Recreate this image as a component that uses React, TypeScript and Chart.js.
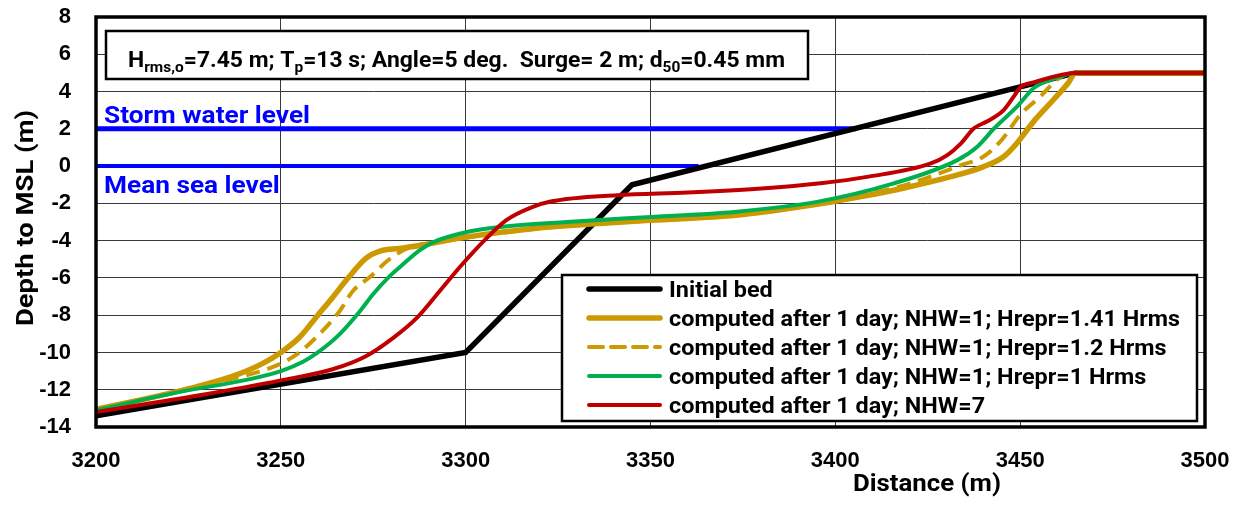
import { useEffect, useRef } from "react";
import { Chart, registerables } from "chart.js";

Chart.register(...registerables);

// Axis ticks
const distanceTicks = [3200, 3250, 3300, 3350, 3400, 3450, 3500];
const depthTicks = [-14, -12, -10, -8, -6, -4, -2, 0, 2, 4, 6, 8];

// Water levels (m to MSL) and the distance up to which each is drawn
const stormLevel = 2;
const stormLevelDist = [3200, 3405.5];
const meanSeaLevel = 0;
const meanSeaLevelDist = [3200, 3363];

// Initial bed profile
const initialDist = [3200, 3300, 3345, 3450, 3465, 3500];
const initialDepth = [-13.4, -10.0, -1.0, 4.25, 5.0, 5.0];

// Computed after 1 day; NHW=1; Hrepr=1.41 Hrms
const h141Dist = [3200, 3212, 3223, 3228, 3238, 3245, 3250, 3255, 3260, 3264, 3268, 3273, 3277, 3282, 3288, 3300, 3318, 3350, 3373, 3395, 3404, 3418, 3431, 3440, 3445.5, 3449, 3454, 3459, 3463, 3465, 3500];
const h141Depth = [-13.05, -12.55, -12.05, -11.8, -11.2, -10.6, -10.0, -9.2, -8.0, -7.05, -6.05, -4.95, -4.55, -4.42, -4.25, -3.81, -3.36, -2.91, -2.64, -2.05, -1.74, -1.2, -0.58, -0.04, 0.5, 1.2, 2.48, 3.56, 4.46, 5.0, 5.0];

// Computed after 1 day; NHW=1; Hrepr=1.2 Hrms
const h120Dist = [3200, 3223, 3235, 3243, 3250, 3255, 3260.5, 3266, 3269.5, 3274, 3279.5, 3285, 3292, 3300, 3318, 3350, 3373, 3395, 3410, 3420, 3434, 3440, 3445, 3450, 3455.5, 3460, 3464, 3500];
const h120Depth = [-13.05, -12.07, -11.5, -11.1, -10.6, -10.0, -9.0, -7.76, -6.7, -5.97, -4.98, -4.35, -4.1, -3.85, -3.38, -2.92, -2.64, -2.05, -1.45, -0.95, 0.05, 0.5, 1.4, 2.75, 3.74, 4.64, 5.0, 5.0];

// Computed after 1 day; NHW=1; Hrepr=1 Hrms
const h100Dist = [3200, 3223, 3240, 3250, 3256, 3260, 3266, 3271.5, 3275, 3279.6, 3282.3, 3287.7, 3291.3, 3300.3, 3309.4, 3327.4, 3350, 3372.6, 3395, 3415.8, 3433, 3438.4, 3443, 3449.2, 3453.7, 3458, 3465, 3500];
const h100Depth = [-13.1, -12.1, -11.5, -11.0, -10.5, -10.0, -9.0, -7.76, -6.86, -5.88, -5.4, -4.5, -4.08, -3.54, -3.27, -3.0, -2.73, -2.46, -1.92, -0.93, 0.32, 1.04, 2.03, 3.2, 4.19, 4.6, 5.0, 5.0];

// Computed after 1 day; NHW=7
const nhw7Dist = [3200, 3228, 3250, 3264, 3273, 3280.5, 3287, 3293, 3298.5, 3305, 3311, 3318, 3323, 3341, 3360, 3380, 3396, 3408.6, 3425.8, 3430.3, 3434, 3437.5, 3441, 3445.6, 3448.3, 3450.1, 3453.7, 3465, 3500];
const nhw7Depth = [-13.2, -12.3, -11.5, -10.9, -10.2, -9.2, -8.1, -6.7, -5.4, -4.0, -2.9, -2.2, -1.9, -1.56, -1.42, -1.2, -0.92, -0.58, 0.14, 0.59, 1.22, 2.03, 2.39, 3.02, 3.74, 4.24, 4.49, 5.0, 5.0];

const seriesLabels = [
  "Initial bed",
  "computed after 1 day; NHW=1; Hrepr=1.41 Hrms",
  "computed after 1 day; NHW=1; Hrepr=1.2 Hrms",
  "computed after 1 day; NHW=1; Hrepr=1 Hrms",
  "computed after 1 day; NHW=7",
];

const waveText: { t: string; sub: boolean }[] = [
  { t: "H", sub: false },
  { t: "rms,o", sub: true },
  { t: "=7.45 m; T", sub: false },
  { t: "p", sub: true },
  { t: "=13 s; Angle=5 deg.  Surge= 2 m; d", sub: false },
  { t: "50", sub: true },
  { t: "=0.45 mm", sub: false },
];

const xTitle = "Distance (m)";
const yTitle = "Depth to MSL (m)";
const stormLabel = "Storm water level";
const meanLabel = "Mean sea level";

const BLACK = "#000000";
const GOLD = "#CC9900";
const GREEN = "#00B050";
const RED = "#C00000";
const BLUE = "#0000FF";
const TEXT_FONT = "Roboto, 'Liberation Sans', sans-serif";
const TICK_FONT = "'Liberation Sans', Arial, sans-serif";

const zip = (xs: number[], ys: number[]) => xs.map((x, i) => ({ x, y: ys[i] }));

// horizontal squeeze that makes text of the given size span a width
function squeeze(ctx: CanvasRenderingContext2D, text: string, size: number, target: number) {
  ctx.font = `bold ${size}px ${TEXT_FONT}`;
  return target / ctx.measureText(text).width;
}

function drawSqueezed(
  ctx: CanvasRenderingContext2D,
  text: string,
  x: number,
  y: number,
  size: number,
  sx: number,
  align: CanvasTextAlign = "left"
) {
  ctx.save();
  ctx.font = `bold ${size}px ${TEXT_FONT}`;
  ctx.textAlign = align;
  ctx.translate(x, y);
  ctx.scale(sx, 1);
  ctx.fillText(text, 0, 0);
  ctx.restore();
}

const legendStyles = [
  { color: BLACK, width: 5.5, dash: [] as number[] },
  { color: GOLD, width: 5.5, dash: [] as number[] },
  { color: GOLD, width: 4, dash: [14, 8] },
  { color: GREEN, width: 4, dash: [] as number[] },
  { color: RED, width: 4, dash: [] as number[] },
];

const decorPlugin = {
  id: "profileDecor",
  afterDatasetsDraw(chart: any) {
    const { ctx, chartArea: a, scales } = chart;
    const ys = scales.y;
    ctx.save();

    // plot frame
    ctx.strokeStyle = "#000";
    ctx.lineWidth = 3.5;
    ctx.strokeRect(a.left, a.top, a.right - a.left, a.bottom - a.top);

    ctx.textBaseline = "alphabetic";

    // water level labels
    const wlSize = 23;
    const wlSx = squeeze(ctx, stormLabel, wlSize, 206);
    ctx.fillStyle = BLUE;
    drawSqueezed(ctx, stormLabel, a.left + 8, ys.getPixelForValue(stormLevel) - 6, wlSize, wlSx);
    drawSqueezed(ctx, meanLabel, a.left + 8, ys.getPixelForValue(meanSeaLevel) + 27, wlSize, wlSx);

    // wave condition box
    const bx = 106, by = 31, bw = 702, bh = 48;
    ctx.fillStyle = "#fff";
    ctx.fillRect(bx, by, bw, bh);
    ctx.strokeStyle = "#000";
    ctx.lineWidth = 2.5;
    ctx.strokeRect(bx, by, bw, bh);
    const main = 21.5;
    const sub = 14.5;
    let total = 0;
    for (const p of waveText) {
      ctx.font = `bold ${p.sub ? sub : main}px ${TEXT_FONT}`;
      total += ctx.measureText(p.t).width;
    }
    const wsx = 657 / total;
    ctx.save();
    ctx.translate(128, 0);
    ctx.scale(wsx, 1);
    ctx.fillStyle = "#000";
    ctx.textAlign = "left";
    let tx = 0;
    for (const p of waveText) {
      ctx.font = `bold ${p.sub ? sub : main}px ${TEXT_FONT}`;
      ctx.fillText(p.t, tx, p.sub ? 72 : 67);
      tx += ctx.measureText(p.t).width;
    }
    ctx.restore();

    // legend
    const lx = 562, ly = 275, lw = 635, lh = 146;
    ctx.fillStyle = "#fff";
    ctx.fillRect(lx, ly, lw, lh);
    ctx.strokeStyle = "#000";
    ctx.lineWidth = 2.5;
    ctx.strokeRect(lx, ly, lw, lh);
    const legSize = 22;
    const legSx = squeeze(ctx, seriesLabels[1], legSize, 511);
    seriesLabels.forEach((label, i) => {
      const rowY = 289 + i * 29;
      const st = legendStyles[i];
      ctx.strokeStyle = st.color;
      ctx.lineWidth = st.width;
      ctx.lineCap = "round";
      ctx.setLineDash(st.dash);
      ctx.beginPath();
      ctx.moveTo(589, rowY);
      ctx.lineTo(660, rowY);
      ctx.stroke();
      ctx.setLineDash([]);
      ctx.fillStyle = "#000";
      drawSqueezed(ctx, label, 669, rowY + 8, legSize, legSx);
    });

    // axis titles
    ctx.fillStyle = "#000";
    const tSize = 24;
    drawSqueezed(ctx, xTitle, 927, 491, tSize, squeeze(ctx, xTitle, tSize, 148), "center");
    ctx.save();
    ctx.translate(33, (a.top + a.bottom) / 2 - 4);
    ctx.rotate(-Math.PI / 2);
    drawSqueezed(ctx, yTitle, 0, 0, tSize, squeeze(ctx, yTitle, tSize, 216), "center");
    ctx.restore();

    ctx.restore();
  },
};

export default function App() {
  const canvasRef = useRef<HTMLCanvasElement | null>(null);

  useEffect(() => {
    const canvas = canvasRef.current;
    if (!canvas) return;
    const line = (data: { x: number; y: number }[], color: string, width: number, order: number, extra: any = {}) => ({
      data,
      borderColor: color,
      backgroundColor: color,
      borderWidth: width,
      pointRadius: 0,
      fill: false,
      order,
      ...extra,
    });
    const chart = new Chart(canvas, {
      type: "line",
      data: {
        datasets: [
          line(zip(stormLevelDist, [stormLevel, stormLevel]), BLUE, 5, 6, { label: stormLabel }),
          line(zip(meanSeaLevelDist, [meanSeaLevel, meanSeaLevel]), BLUE, 4, 5, { label: meanLabel }),
          line(zip(initialDist, initialDepth), BLACK, 5.5, 4, { label: seriesLabels[0], tension: 0 }),
          line(zip(h141Dist, h141Depth), GOLD, 5.5, 3, { label: seriesLabels[1], cubicInterpolationMode: "monotone" }),
          line(zip(h120Dist, h120Depth), GOLD, 4, 2, { label: seriesLabels[2], cubicInterpolationMode: "monotone", borderDash: [14, 8] }),
          line(zip(h100Dist, h100Depth), GREEN, 4, 1, { label: seriesLabels[3], cubicInterpolationMode: "monotone" }),
          line(zip(nhw7Dist, nhw7Depth), RED, 4, 0, { label: seriesLabels[4], cubicInterpolationMode: "monotone" }),
        ],
      },
      options: {
        animation: false,
        responsive: true,
        maintainAspectRatio: false,
        layout: { padding: { left: 0, top: 17, right: 30, bottom: 0 } },
        plugins: { legend: { display: false }, tooltip: { enabled: false } },
        events: [],
        scales: {
          x: {
            type: "linear",
            min: 3200,
            max: 3500,
            afterBuildTicks: (axis: any) => {
              axis.ticks = distanceTicks.map((v) => ({ value: v }));
            },
            afterFit: (axis: any) => {
              axis.height = 79;
              axis.paddingLeft = 0;
              axis.paddingRight = 0;
            },
            grid: { color: "#3a3a3a", lineWidth: 1, drawTicks: false },
            border: { display: false },
            ticks: {
              color: "#000",
              padding: 21,
              maxRotation: 0,
              callback: (v: any) => String(v),
              font: { family: TICK_FONT, size: 22, weight: "bold" },
            },
          },
          y: {
            type: "linear",
            min: -14,
            max: 8,
            afterBuildTicks: (axis: any) => {
              axis.ticks = depthTicks.map((v) => ({ value: v }));
            },
            afterFit: (axis: any) => {
              axis.width = 96;
              axis.paddingTop = 0;
              axis.paddingBottom = 0;
            },
            grid: { color: "#3a3a3a", lineWidth: 1, drawTicks: false },
            border: { display: false },
            ticks: {
              color: "#000",
              padding: 25,
              callback: (v: any) => String(v),
              font: { family: TICK_FONT, size: 22, weight: "bold" },
            },
          },
        },
      },
      plugins: [decorPlugin],
    } as any);
    return () => chart.destroy();
  }, []);

  return (
    <div style={{ position: "fixed", left: 0, top: 0, width: 1235, height: 506, background: "#fff" }}>
      <canvas ref={canvasRef} />
    </div>
  );
}
